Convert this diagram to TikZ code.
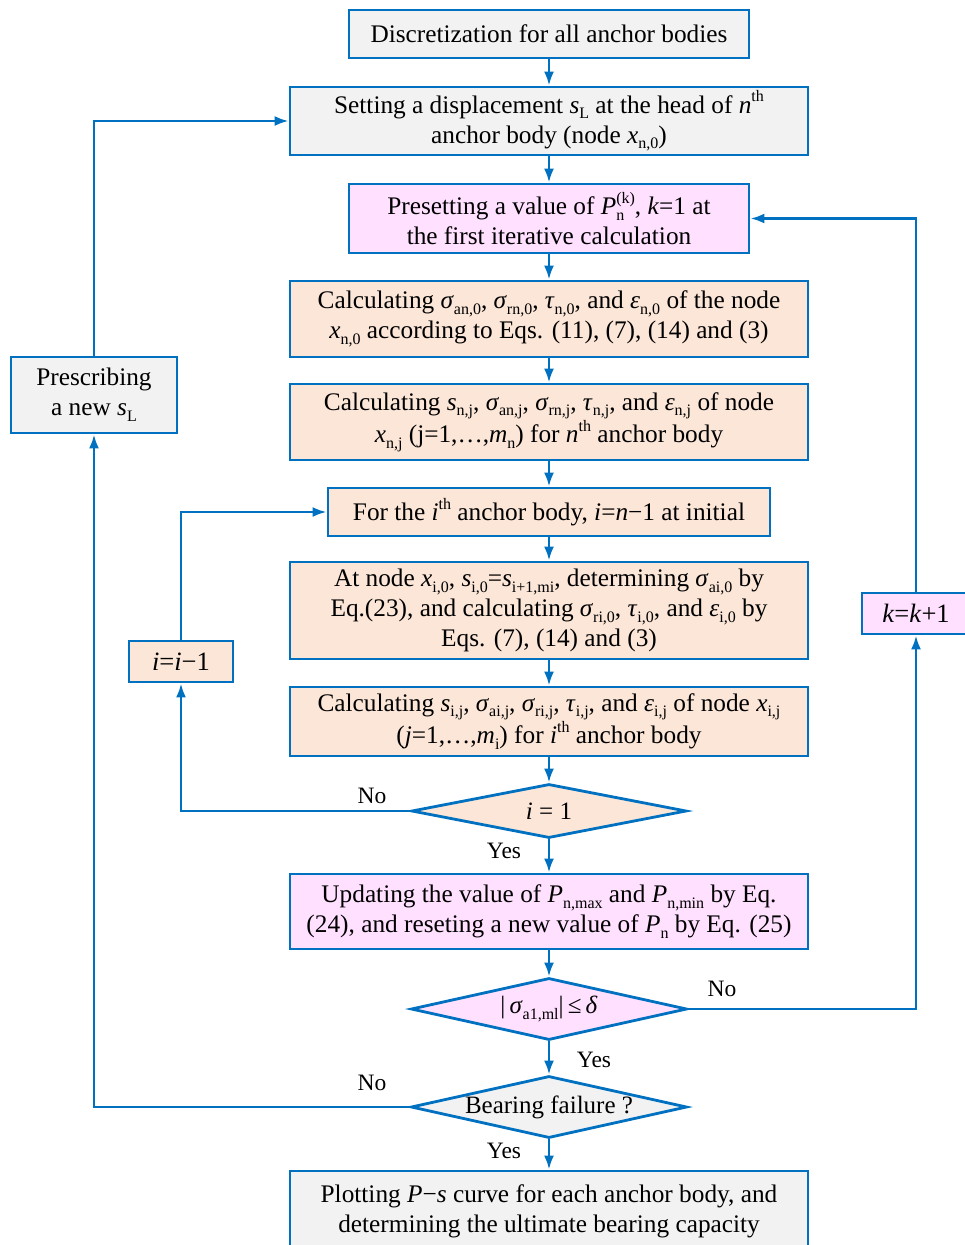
\documentclass[tikz,border=0pt]{standalone}
\usepackage{fontspec}
\setmainfont{Liberation Serif}
\usetikzlibrary{shapes.geometric,arrows.meta}
\definecolor{bl}{HTML}{0070C0}
\definecolor{gr}{HTML}{F2F2F2}
\definecolor{pk}{HTML}{FFE1FF}
\definecolor{pe}{HTML}{FBE6D8}
\newcommand\lo[1]{\raisebox{-0.22em}{\fontsize{16}{16}\selectfont #1}}
\newcommand\hi[1]{\raisebox{0.45em}{\fontsize{16}{16}\selectfont #1}}
\newcommand\losup[2]{\mbox{\rlap{\lo{#1}}\hi{#2}}}
\newcommand\mainsz{\fontsize{25.3}{30}\selectfont}
\begin{document}
\begin{tikzpicture}[x=1pt,y=-1pt,
  box/.style={draw=bl, line width=2.8pt, align=center, inner sep=0pt, font=\mainsz},
  gbox/.style={box, fill=gr},
  pbox/.style={box, fill=pk},
  ebox/.style={box, fill=pe},
  dia/.style={shape=diamond, draw=bl, line width=2.8pt, align=center, inner sep=0pt, font=\fontsize{25}{30}\selectfont},
  arr/.style={draw=bl, line width=2.6pt, -{Latex[length=14pt,width=10pt]}},
  lab/.style={font=\fontsize{23.5}{28}\selectfont, inner sep=0pt},
  sbox/.style={box, font=\fontsize{26.5}{30}\selectfont}
]
\useasboundingbox (0,0) rectangle (964,1245);

\node[gbox, minimum width=400pt, minimum height=48pt] (b1) at (549,34) {Discretization for all anchor bodies};
\node[gbox, minimum width=518pt, minimum height=68pt] (b2) at (549,121) {Setting a displacement \textit{s}\lo{L} at the head of \textit{n}\hi{th}\\ anchor body (node \textit{x}\lo{n,0})};
\node[pbox, minimum width=400pt, minimum height=69pt] (b3) at (549,218.5) {Presetting a value of \textit{P}\losup{n}{(k)}, \textit{k}=1 at\\ the first iterative calculation};
\node[ebox, minimum width=518pt, minimum height=76pt] (b4) at (549,319) {Calculating \textit{σ}\lo{an,0}, \textit{σ}\lo{rn,0}, \textit{τ}\lo{n,0}, and \textit{ε}\lo{n,0} of the node\\ \textit{x}\lo{n,0} according to Eqs. (11), (7), (14) and (3)};
\node[ebox, minimum width=518pt, minimum height=76pt] (b5) at (549,422) {Calculating \textit{s}\lo{n,j}, \textit{σ}\lo{an,j}, \textit{σ}\lo{rn,j}, \textit{τ}\lo{n,j}, and \textit{ε}\lo{n,j} of node\\ \textit{x}\lo{n,j} (j=1,…,\textit{m}\lo{n}) for \textit{n}\hi{th} anchor body};
\node[ebox, minimum width=442pt, minimum height=48pt] (b6) at (549,512) {For the \textit{i}\hi{th} anchor body, \textit{i}=\textit{n}−1 at initial};
\node[ebox, minimum width=518pt, minimum height=97pt] (b7) at (549,610.5) {At node \textit{x}\lo{i,0}, \textit{s}\lo{i,0}=\textit{s}\lo{i+1,mi}, determining \textit{σ}\lo{ai,0} by\\ Eq.(23), and calculating \textit{σ}\lo{ri,0}, \textit{τ}\lo{i,0}, and \textit{ε}\lo{i,0} by\\ Eqs. (7), (14) and (3)};
\node[ebox, minimum width=518pt, minimum height=69pt] (b8) at (549,721.5) {Calculating \textit{s}\lo{i,j}, \textit{σ}\lo{ai,j}, \textit{σ}\lo{ri,j}, \textit{τ}\lo{i,j}, and \textit{ε}\lo{i,j} of node \textit{x}\lo{i,j}\\ (\textit{j}=1,…,\textit{m}\lo{i}) for \textit{i}\hi{th} anchor body};
\node[dia, fill=pe, minimum width=275pt, minimum height=54pt, aspect=5.1] (d1) at (549,811) {\textit{i} = 1};
\node[pbox, minimum width=518pt, minimum height=75pt] (b10) at (549,911.5) {Updating the value of \textit{P}\lo{n,max} and \textit{P}\lo{n,min} by Eq.\\ (24), and reseting a new value of \textit{P}\lo{n} by Eq. (25)};
\node[dia, fill=pk, minimum width=276pt, minimum height=62pt, aspect=4.45] (d2) at (549,1009) {|\,\textit{σ}\lo{a1,ml}|\,≤\,\textit{δ}};
\node[dia, fill=gr, minimum width=276pt, minimum height=62pt, aspect=4.45] (d3) at (549,1107) {Bearing failure ?};
\node[gbox, minimum width=518pt, minimum height=80pt] (b13) at (549,1211) {Plotting \textit{P}−\textit{s} curve for each anchor body, and\\ determining the ultimate bearing capacity};

\node[gbox, minimum width=166pt, minimum height=76pt] (pr) at (94,395) {Prescribing\\ a new \textit{s}\lo{L}};
\node[ebox, sbox, minimum width=104pt, minimum height=41pt] (ii) at (181,661.5) {\textit{i}=\textit{i}−1};
\node[pbox, sbox, minimum width=108pt, minimum height=41pt] (kk) at (916,613.5) {\textit{k}=\textit{k}+1};

\draw[arr] (b1.south) -- (b2.north);
\draw[arr] (b2.south) -- (b3.north);
\draw[arr] (b3.south) -- (b4.north);
\draw[arr] (b4.south) -- (b5.north);
\draw[arr] (b5.south) -- (b6.north);
\draw[arr] (b6.south) -- (b7.north);
\draw[arr] (b7.south) -- (b8.north);
\draw[arr] (b8.south) -- (d1.north);
\draw[arr] (d1.south) -- (b10.north);
\draw[arr] (b10.south) -- (d2.north);
\draw[arr] (d2.south) -- (d3.north);
\draw[arr] (d3.south) -- (b13.north);

\draw[arr] (pr.north) |- (b2.west);
\draw[arr] (d3.west) -| (pr.south);
\draw[arr] (d1.west) -| (ii.south);
\draw[arr] (ii.north) |- (b6.west);
\draw[arr] (d2.east) -| (kk.south);
\draw[arr] (kk.north) |- (b3.east);

\node[lab] (n1) at (372,796) {No};
\node[lab] (y1) at (504,851) {Yes};
\node[lab] (n2) at (722,989) {No};
\node[lab] (y2) at (594,1060) {Yes};
\node[lab] (n3) at (372,1083) {No};
\node[lab] (y3) at (504,1151) {Yes};
\end{tikzpicture}
\end{document}
